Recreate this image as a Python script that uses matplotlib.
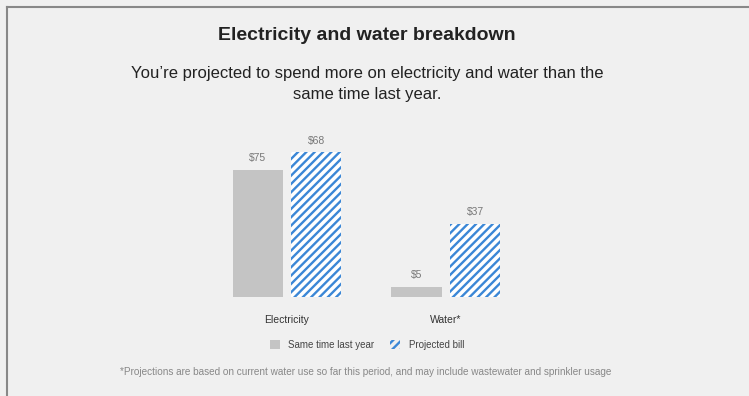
import matplotlib
matplotlib.use("Agg")
import matplotlib.pyplot as plt
import matplotlib.patches as mpatches
from matplotlib.lines import Line2D
import numpy as np

########## data ##########
categories        = ["Electricity", "Water*"]
last_year         = [64.3, 5.05]     # bar heights as drawn
projected         = [73.2, 37.0]
last_year_labels  = ["$75", "$5"]
projected_labels  = ["$68", "$37"]
legend_labels     = ["Same time last year", "Projected bill"]

title    = "Electricity and water breakdown"
subtitle = "You\u2019re projected to spend more on electricity and water than the\nsame time last year."
footnote = ("*Projections are based on current water use so far this period, "
            "and may include wastewater and sprinkler usage")

########## style ##########
BG    = "#f0f0f0"
GREY  = "#c4c4c4"
BLUE  = "#3b87d6"
plt.rcParams["font.family"] = ["Liberation Sans", "DejaVu Sans"]
plt.rcParams["hatch.linewidth"] = 1.7

W, H = 749, 396
fig = plt.figure(figsize=(W / 100, H / 100), dpi=100, facecolor=BG)

# axes placed so the two groups sit where they do in the reference
ax = fig.add_axes([128.2 / W, (H - 297.3) / H, 476.4 / W, 158.4 / H])
ax.set_facecolor("none")
ax.set_xlim(-1, 2)
ax.set_ylim(0, 80)
ax.axis("off")

x     = np.arange(len(categories))
width = 0.315
off   = 0.1845

b1 = ax.bar(x - off, last_year, width, color=GREY, linewidth=0)
b2 = ax.bar(x + off, projected, width, color="white", edgecolor=BLUE,
            hatch="////", linewidth=0)

for xi, h, lab in zip(x - off, last_year, last_year_labels):
    ax.annotate(lab, (xi, h), xytext=(0, 8.5), textcoords="offset points",
                ha="center", va="center", fontsize=7.5, color="#777777")
for xi, h, lab in zip(x + off, projected, projected_labels):
    ax.annotate(lab, (xi, h), xytext=(0, 8.5), textcoords="offset points",
                ha="center", va="center", fontsize=7.5, color="#777777")

# category labels at y ~ 320 px
for xi, cat in zip(x, categories):
    px = ax.transData.transform((xi, 0))[0]
    fig.text(px / W, (H - 320) / H, cat, ha="center", va="center",
             fontsize=7.5, color="#333333")

# legend
h_grey = mpatches.Patch(facecolor=GREY, linewidth=0)
h_blue = mpatches.Patch(facecolor="none", edgecolor=BLUE, hatch="////", linewidth=0)
fig.legend([h_grey, h_blue], legend_labels, loc="center",
           bbox_to_anchor=(367 / W, (H - 345) / H), ncol=2, frameon=False,
           fontsize=7, handlelength=1.0, handleheight=1.0, handletextpad=0.9,
           columnspacing=1.6, labelcolor="#444444")

# titles and footnote
fig.text(367 / W, (H - 35) / H, title, ha="center", va="center",
         fontsize=14, fontweight="bold", color="#222222")
fig.text(367 / W, (H - 84) / H, subtitle, ha="center", va="center",
         fontsize=12, color="#222222", linespacing=1.5)
fig.text(366 / W, (H - 372) / H, footnote, ha="center", va="center",
         fontsize=7.2, color="#888888")

# border on the top and left
fig.add_artist(Line2D([6.5 / W, 1], [(H - 6.5) / H] * 2, color="#888888",
                      linewidth=1.5, transform=fig.transFigure))
fig.add_artist(Line2D([6.5 / W] * 2, [0, (H - 6.5) / H], color="#888888",
                      linewidth=1.5, transform=fig.transFigure))

fig.savefig("out.png", dpi=100, facecolor=BG)
